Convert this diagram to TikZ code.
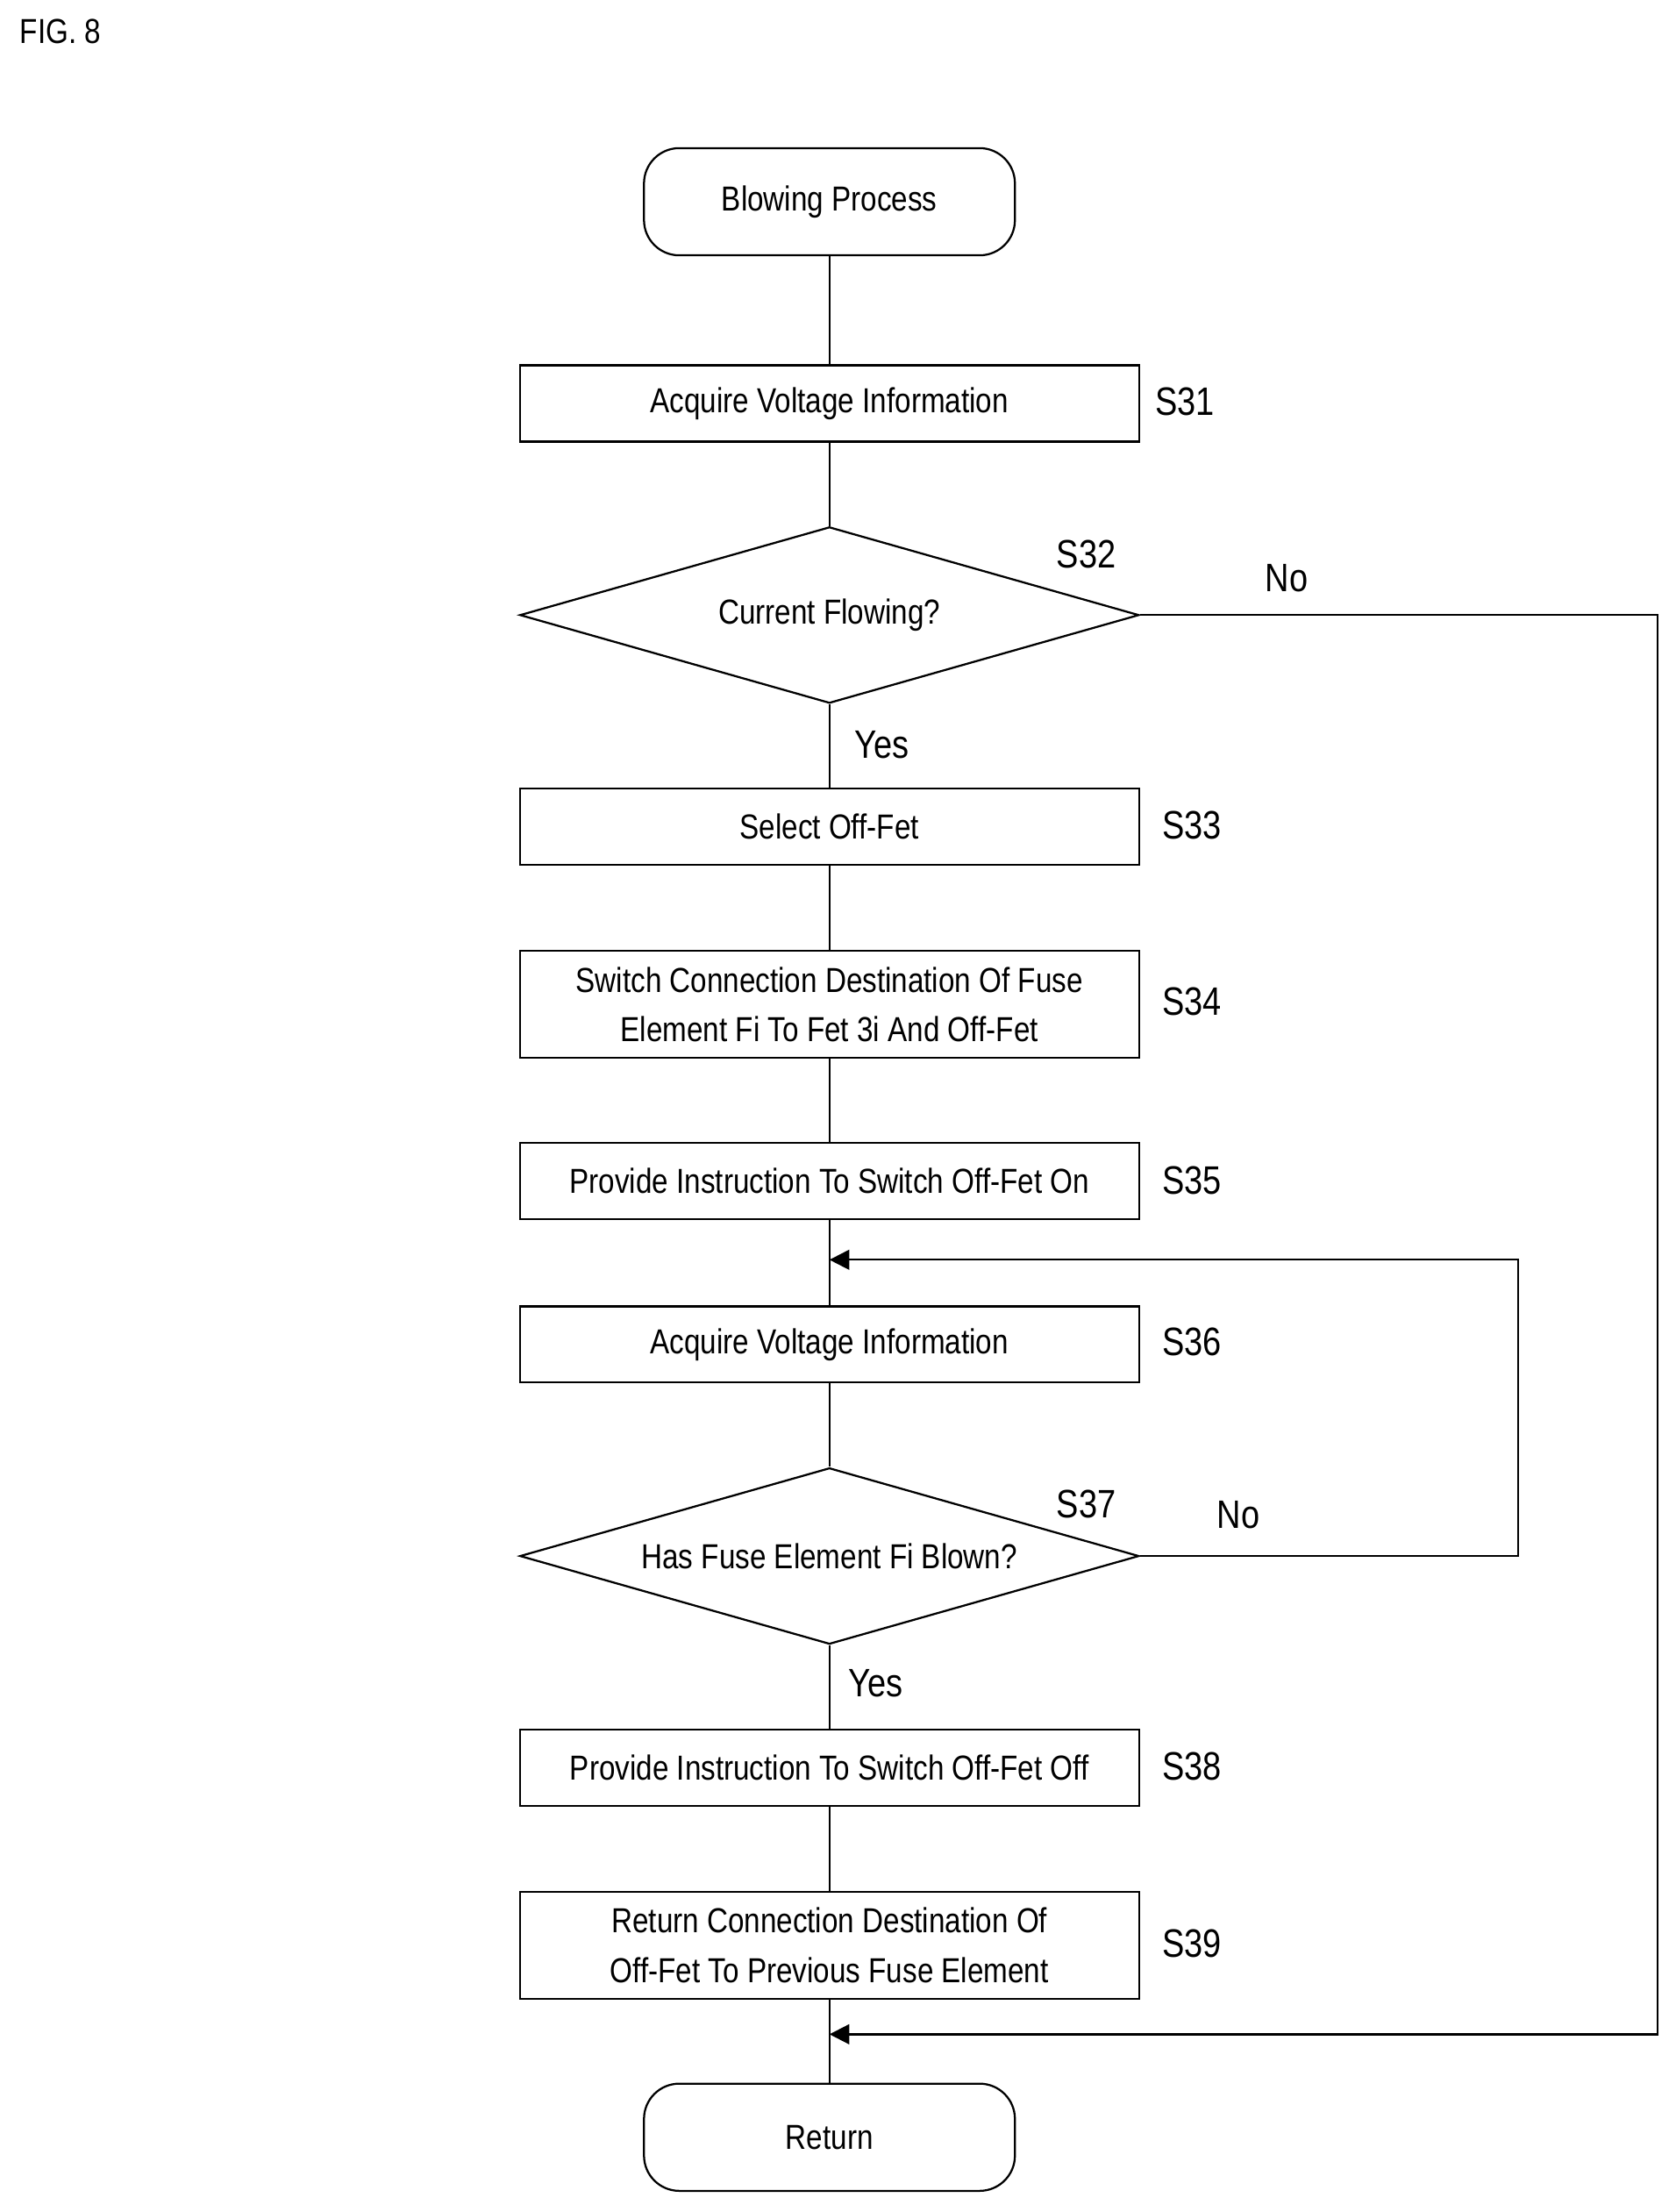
\documentclass[tikz,border=0pt]{standalone}
\usepackage{fontspec}
\setmainfont{Liberation Sans}[FakeStretch=0.84]
\usetikzlibrary{shapes.geometric,arrows.meta}
\tikzset{
  proc/.style={draw=black,thick,minimum width=8.78cm,minimum height=1.08cm,align=center,font=\fontsize{14}{20}\selectfont},
  term/.style={draw=black,thick,rounded corners=0.5cm,minimum width=5.26cm,minimum height=1.52cm,font=\fontsize{14}{20}\selectfont},
  dec/.style={draw=black,thick,diamond,aspect=3.5,minimum width=8.78cm,minimum height=2.5cm,inner sep=0pt,font=\fontsize{14}{20}\selectfont},
  lbl/.style={font=\fontsize{16}{18}\selectfont}
}
\begin{document}
\begin{tikzpicture}[x=0.02cm,y=-0.02cm]
\useasboundingbox (0,0) rectangle (1188,1568);
\node at (43,22) [lbl,font=\fontsize{14}{16}\selectfont] {FIG. 8};
\node (start) at (588,143) [term] {Blowing Process};
\node (s31) at (588,286) [proc] {Acquire Voltage Information};
\node (s32) at (588,436) [dec] {};
\node at (588,436) [font=\fontsize{14}{20}\selectfont] {Current Flowing?};
\node (s33) at (588,586) [proc] {Select Off-Fet};
\node (s34) at (588,712) [proc,minimum height=1.52cm] {Switch Connection Destination Of Fuse\\Element Fi To Fet 3i And Off-Fet};
\node (s35) at (588,837) [proc] {Provide Instruction To Switch Off-Fet On};
\node (s36) at (588,953) [proc] {Acquire Voltage Information};
\node (s37) at (588,1103) [dec] {};
\node at (588,1103) [font=\fontsize{14}{20}\selectfont] {Has Fuse Element Fi Blown?};
\node (s38) at (588,1253) [proc] {Provide Instruction To Switch Off-Fet Off};
\node (s39) at (588,1379) [proc,minimum height=1.52cm] {Return Connection Destination Of\\Off-Fet To Previous Fuse Element};
\node (ret) at (588,1515) [term] {Return};
\coordinate (m1) at (588,893);
\coordinate (m2) at (588,1442);
\node at (840,285) [lbl] {S31};
\node at (770,393) [lbl] {S32};
\node at (845,585) [lbl] {S33};
\node at (845,710) [lbl] {S34};
\node at (845,837) [lbl] {S35};
\node at (845,951) [lbl] {S36};
\node at (770,1066) [lbl] {S37};
\node at (845,1252) [lbl] {S38};
\node at (845,1378) [lbl] {S39};
\node at (912,410) [lbl] {No};
\node at (878,1074) [lbl] {No};
\node at (625,528) [lbl] {Yes};
\node at (621,1193) [lbl] {Yes};
\draw[thick] (start) -- (s31) -- (s32) -- (s33) -- (s34) -- (s35) -- (s36) -- (s37) -- (s38) -- (s39) -- (ret);
\draw[thick,-{Triangle[length=8pt,width=8pt]}] (s32.east) -- (1175,436) -- (1175,1442) -- (m2);
\draw[thick,-{Triangle[length=8pt,width=8pt]}] (s37.east) -- (1076,1103) -- (1076,893) -- (m1);
\end{tikzpicture}
\end{document}
